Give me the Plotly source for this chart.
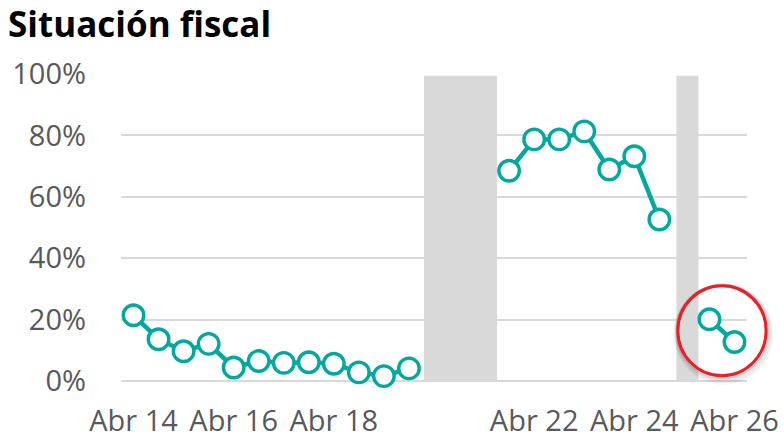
import plotly.graph_objects as go

# Semiannual periods (April / October), April 2014 to April 2026
periods = [f"{m} {y:02d}" for y in range(14, 27) for m in ("Abr", "Oct")][:25]

# Share of responses (%) per period; None where there is no survey
situacion = [21.4, 13.6, 9.7, 12.1, 4.4, 6.5, 5.9, 6.1, 5.6, 2.8, 1.6, 4.1,
             None, None, None,
             68.5, 78.7, 78.7, 81.3, 68.9, 73.2, 52.6,
             None,
             20.1, 12.7]

# Periods without survey, as spans on the category axis
sin_encuesta = [(11.6, 14.52), (21.68, 22.56)]

# Periods shown on the horizontal axis
etiquetas = ["Abr 14", "Abr 16", "Abr 18", "Abr 22", "Abr 24", "Abr 26"]

y_ticks = [0, 20, 40, 60, 80, 100]

TEAL = "#00A99D"
GRID = "#D9D9D9"
TXT = "#595959"
RED = "#EE1C25"

x_idx = list(range(len(periods)))
x_range = [-0.5, len(periods) - 0.5]
y_range = [0, 100]

fig = go.Figure()

fig.add_trace(go.Scatter(
    x=x_idx, y=situacion, mode="lines+markers",
    line=dict(color=TEAL, width=4.5),
    marker=dict(size=20.5, color="white", line=dict(color=TEAL, width=3.4)),
    connectgaps=False, showlegend=False, hoverinfo="skip", cliponaxis=False,
))

shapes = []
for a, b in sin_encuesta:
    shapes.append(dict(type="rect", xref="x", yref="y", x0=a, x1=b, y0=0, y1=99.4,
                       fillcolor=GRID, line=dict(width=0), layer="below"))

# Highlight ring around the latest two observations (paper coords so it is not clipped)
last = [i for i, v in enumerate(situacion) if v is not None][-2:]
cx = sum(last) / 2
cy = sum(situacion[i] for i in last) / 2
px = (cx - x_range[0]) / (x_range[1] - x_range[0])
py = (cy - y_range[0]) / (y_range[1] - y_range[0])
rx, ry = 0.0705, 0.1465
# soft drop shadow
for k, op in enumerate([0.12, 0.08, 0.05, 0.03]):
    d = 0.004 * (k + 1)
    shapes.append(dict(type="circle", xref="paper", yref="paper",
                       x0=px - rx - d * 0.3, x1=px + rx + d * 0.6,
                       y0=py - ry - d * 1.6, y1=py + ry + d * 0.2,
                       line=dict(color=f"rgba(0,0,0,{op})", width=3), layer="above"))
shapes.append(dict(type="circle", xref="paper", yref="paper",
                   x0=px - rx, x1=px + rx, y0=py - ry, y1=py + ry,
                   line=dict(color=RED, width=3), layer="above"))

fig.update_layout(
    width=784, height=439,
    margin=dict(l=121, r=37, t=74, b=58),
    plot_bgcolor="white", paper_bgcolor="white",
    font=dict(family="Open Sans", color=TXT, size=29),
    title=dict(text="<b>Situación fiscal</b>", font=dict(family="Open Sans", size=35, color="black"),
               x=8 / 784, xanchor="left", xref="container",
               y=1 - 25 / 439, yanchor="middle", yref="container"),
    shapes=shapes,
    xaxis=dict(range=x_range, showgrid=False, zeroline=False, showline=False,
               tickmode="array", tickvals=[periods.index(t) for t in etiquetas],
               ticktext=etiquetas, ticks="", ticklabelstandoff=20, automargin=False,
               tickfont=dict(size=29, color=TXT)),
    yaxis=dict(range=y_range, tickmode="array", tickvals=y_ticks,
               ticktext=[f"{v}%" for v in y_ticks], showgrid=True,
               gridcolor=GRID, gridwidth=1.6, zeroline=True, zerolinecolor=GRID,
               zerolinewidth=1.6, showline=False, ticks="", ticklabelstandoff=34,
               automargin=False, tickfont=dict(size=29, color=TXT)),
)

fig.write_html("out.html")
